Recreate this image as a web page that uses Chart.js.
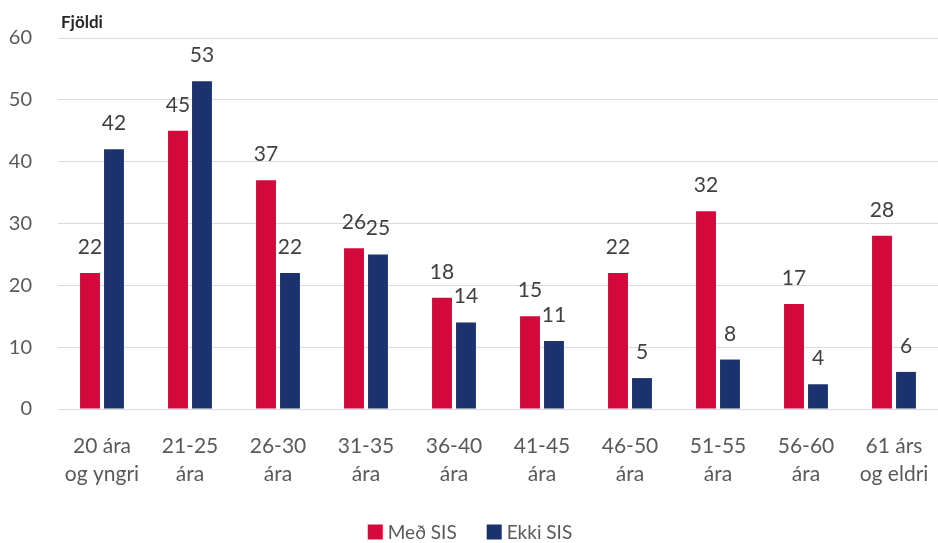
<!DOCTYPE html>
<html>
<head>
<meta charset="utf-8">
<script src="https://cdn.jsdelivr.net/npm/chart.js@4.4.1/dist/chart.umd.min.js"></script>
<style>
  html, body { margin: 0; padding: 0; background: #ffffff; }
  #wrap { width: 938px; height: 543px; }
</style>
</head>
<body>
<div id="wrap"><canvas id="c" width="938" height="543"></canvas></div>
<script>
// Age groups (two-line labels)
const categories = [
  ['20 ára', 'og yngri'],
  ['21-25', 'ára'],
  ['26-30', 'ára'],
  ['31-35', 'ára'],
  ['36-40', 'ára'],
  ['41-45', 'ára'],
  ['46-50', 'ára'],
  ['51-55', 'ára'],
  ['56-60', 'ára'],
  ['61 árs', 'og eldri']
];
const medSIS  = [22, 45, 37, 26, 18, 15, 22, 32, 17, 28];
const ekkiSIS = [42, 53, 22, 25, 14, 11, 5, 8, 4, 6];
const seriesNames = ['Með SIS', 'Ekki SIS'];
const seriesColors = ['#D3083B', '#1C326F'];
const yTicks = [0, 10, 20, 30, 40, 50, 60];
const axisTitle = 'Fjöldi';

const FONT = "Lato, 'Open Sans', sans-serif";

// Value labels above each bar
const valueLabels = {
  id: 'valueLabels',
  afterDatasetsDraw(chart) {
    const ctx = chart.ctx;
    ctx.save();
    ctx.font = '21px ' + FONT;
    ctx.fillStyle = '#404040';
    ctx.textAlign = 'center';
    ctx.textBaseline = 'alphabetic';
    chart.data.datasets.forEach((ds, i) => {
      chart.getDatasetMeta(i).data.forEach((bar, j) => {
        ctx.fillText(String(ds.data[j]), bar.x, bar.y - 19);
      });
    });
    ctx.restore();
  }
};

// Axis unit caption above the value axis
const unitCaption = {
  id: 'unitCaption',
  afterDraw(chart) {
    const ctx = chart.ctx;
    const area = chart.chartArea;
    ctx.save();
    ctx.font = 'bold 17px ' + FONT;
    ctx.fillStyle = '#262626';
    ctx.textAlign = 'left';
    ctx.textBaseline = 'middle';
    ctx.fillText(axisTitle, area.left + 3, area.top - 15);
    ctx.restore();
  }
};

// Compact legend row along the bottom edge
const bottomLegend = {
  id: 'bottomLegend',
  afterDraw(chart) {
    const ctx = chart.ctx;
    const box = 15, textGap = 5, itemGap = 30;
    ctx.save();
    ctx.font = '19px ' + FONT;
    ctx.textBaseline = 'middle';
    ctx.textAlign = 'left';
    const items = chart.data.datasets.map(ds => ({
      label: ds.label, color: ds.backgroundColor,
      w: box + textGap + ctx.measureText(ds.label).width
    }));
    const total = items.reduce((s, it) => s + it.w, 0) + itemGap * (items.length - 1);
    let x = chart.width / 2 + 1 - total / 2;
    const y = chart.height - 11;
    items.forEach(it => {
      ctx.fillStyle = it.color;
      ctx.fillRect(x, y - box / 2, box, box);
      ctx.fillStyle = '#595959';
      ctx.fillText(it.label, x + box + textGap, y + 1);
      x += it.w + itemGap;
    });
    ctx.restore();
  }
};

new Chart(document.getElementById('c'), {
  type: 'bar',
  data: {
    labels: categories,
    datasets: [
      { label: seriesNames[0], data: medSIS, backgroundColor: seriesColors[0] },
      { label: seriesNames[1], data: ekkiSIS, backgroundColor: seriesColors[1] }
    ]
  },
  options: {
    responsive: false,
    animation: false,
    layout: { padding: { top: 37, right: -5, left: 0, bottom: 50 } },
    datasets: {
      bar: { categoryPercentage: 0.545, barPercentage: 0.83 }
    },
    scales: {
      x: {
        grid: { display: false },
        border: { display: false },
        ticks: {
          font: { family: FONT, size: 21, lineHeight: 1.3 },
          color: '#595959',
          padding: 16,
          maxRotation: 0,
          autoSkip: false
        },
        afterFit(scale) {
          scale.height = 84;
          scale.paddingLeft = 0;
          scale.paddingRight = 0;
        }
      },
      y: {
        min: 0,
        max: 60,
        afterBuildTicks(scale) { scale.ticks = yTicks.map(v => ({ value: v })); },
        grid: { color: '#DADADA', lineWidth: 1, drawTicks: false },
        border: { display: false },
        ticks: {
          font: { family: FONT, size: 20 },
          color: '#595959',
          padding: 26
        },
        afterFit(scale) { scale.width = 58; }
      }
    },
    plugins: {
      legend: { display: false },
      tooltip: { enabled: false }
    }
  },
  plugins: [valueLabels, unitCaption, bottomLegend]
});
</script>
</body>
</html>
